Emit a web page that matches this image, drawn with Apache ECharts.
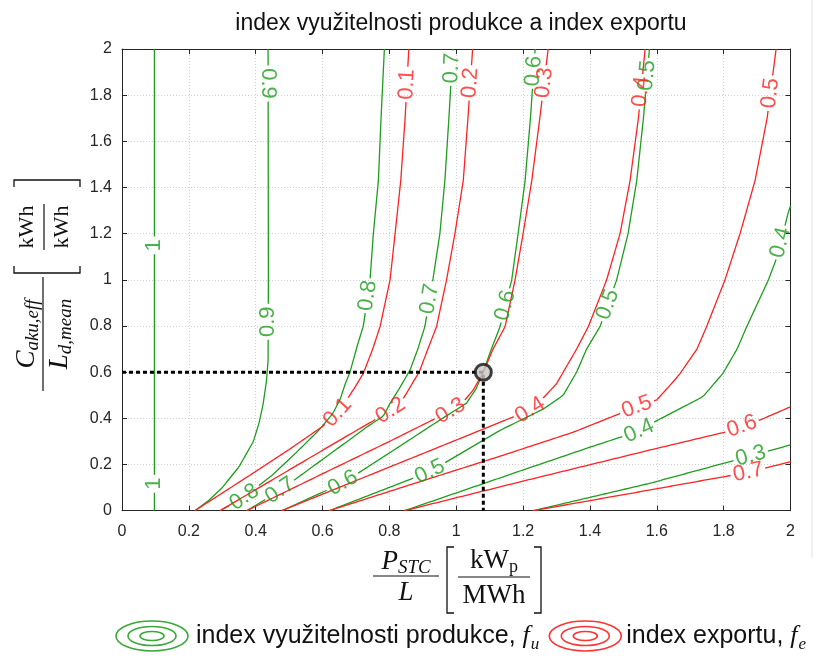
<!DOCTYPE html>
<html><head><meta charset="utf-8">
<script src="https://cdn.jsdelivr.net/npm/echarts@6/dist/echarts.min.js"></script>
<style>html,body{margin:0;padding:0;background:#fff}#c{width:819px;height:659px}</style>
</head><body><div id="c"></div>
<script>
// ---- ticks ----
const xTickLabels = ['0','0.2','0.4','0.6','0.8','1','1.2','1.4','1.6','1.8','2'];
const yTickLabels = ['0','0.2','0.4','0.6','0.8','1','1.2','1.4','1.6','1.8','2'];

// ---- f_u contours (green) ----
const fu10 = [[0.097,0],[0.097,2]];
const fu10Lab = [[0.097,0.12],[0.097,1.15]];
const fu09 = [[0.218,0],[0.26,0.045],[0.298,0.097],[0.35,0.19],[0.393,0.30],[0.41,0.38],[0.422,0.46],[0.432,0.56],[0.437,0.65],[0.438,1.0],[0.437,2.0]];
const fu09Lab = [[0.438,0.82],[0.437,1.85]];
const fu08 = [[0.293,0],[0.363,0.055],[0.393,0.09],[0.45,0.155],[0.52,0.25],[0.59,0.35],[0.63,0.42],[0.652,0.48],[0.668,0.55],[0.682,0.6],[0.705,0.72],[0.722,0.8],[0.742,1.0],[0.752,1.2],[0.767,1.43],[0.775,1.7],[0.785,2.0]];
const fu08Lab = [[0.365,0.057],[0.74,0.93]];
const fu07 = [[0.373,0],[0.473,0.0875],[0.56,0.18],[0.652,0.277],[0.73,0.36],[0.782,0.41],[0.802,0.465],[0.83,0.53],[0.862,0.61],[0.885,0.7],[0.906,0.797],[0.93,1.0],[0.951,1.2],[0.966,1.43],[0.978,1.7],[0.99,2.0]];
const fu07Lab = [[0.473,0.0875],[0.931,0.912],[0.987,1.92]];
const fu06 = [[0.478,0],[0.661,0.12],[0.8,0.25],[0.951,0.393],[1.031,0.466],[1.06,0.53],[1.081,0.602],[1.105,0.7],[1.131,0.797],[1.166,1.0],[1.185,1.2],[1.206,1.43],[1.222,1.7],[1.236,2.0]];
const fu06Lab = [[0.661,0.12],[1.158,0.884],[1.25,1.9]];
const fu05 = [[0.62,0],[0.921,0.169],[1.131,0.348],[1.26,0.44],[1.32,0.5],[1.36,0.6],[1.39,0.7],[1.43,0.797],[1.48,1.0],[1.514,1.2],[1.54,1.43],[1.56,1.7],[1.578,2.0]];
const fu05Lab = [[0.921,0.169],[1.467,0.884],[1.59,1.88]];
const fu04 = [[0.845,0],[1.191,0.172],[1.40,0.275],[1.547,0.345],[1.60,0.39],[1.738,0.494],[1.798,0.595],[1.84,0.7],[1.869,0.797],[1.934,1.0],[1.96,1.1],[1.993,1.29],[2.0,1.32]];
const fu04Lab = [[1.547,0.345],[1.974,1.16]];
const fu03 = [[1.23,0],[1.58,0.119],[1.881,0.237],[2.0,0.285]];
const fu03Lab = [[1.881,0.237]];

// ---- f_e contours (red) ----
const fe01 = [[0.218,0],[0.40,0.17],[0.50,0.265],[0.60,0.365],[0.645,0.425],[0.67,0.475],[0.695,0.53],[0.722,0.595],[0.75,0.70],[0.772,0.797],[0.802,1.0],[0.817,1.2],[0.834,1.43],[0.847,1.7],[0.858,2.0]];
const fe01Lab = [[0.646,0.427],[0.847,1.85]];
const fe02 = [[0.293,0],[0.652,0.306],[0.80,0.43],[0.83,0.46],[0.851,0.508],[0.872,0.56],[0.889,0.6],[0.915,0.7],[0.941,0.797],[0.971,1.0],[0.996,1.2],[1.021,1.43],[1.035,1.7],[1.049,2.0]];
const fe02Lab = [[0.803,0.433],[1.058,1.85]];
const fe03 = [[0.373,0],[0.6,0.16],[0.8,0.30],[0.983,0.432],[1.02,0.47],[1.051,0.523],[1.081,0.6],[1.11,0.7],[1.146,0.797],[1.176,1.0],[1.2,1.2],[1.226,1.43],[1.25,1.7],[1.275,2.0]];
const fe03Lab = [[0.983,0.432],[1.275,1.85]];
const fe04 = [[0.478,0],[0.8,0.189],[1.0,0.306],[1.221,0.436],[1.26,0.488],[1.30,0.55],[1.32,0.6],[1.36,0.7],[1.395,0.797],[1.45,1.0],[1.49,1.2],[1.52,1.43],[1.545,1.7],[1.565,2.0]];
const fe04Lab = [[1.221,0.436],[1.557,1.815]];
const fe05 = [[0.62,0],[0.9,0.13],[1.131,0.236],[1.35,0.34],[1.54,0.45],[1.60,0.48],[1.65,0.56],[1.67,0.595],[1.72,0.7],[1.749,0.797],[1.804,1.0],[1.849,1.2],[1.894,1.43],[1.93,1.7],[1.957,2.0]];
const fe05Lab = [[1.54,0.45],[1.948,1.808]];
const fe06 = [[0.845,0],[1.191,0.125],[1.58,0.263],[1.809,0.342],[1.909,0.393],[2.0,0.45]];
const fe06Lab = [[1.854,0.364]];
const fe07 = [[1.23,0],[1.58,0.09],[1.869,0.165],[2.0,0.212]];
const fe07Lab = [[1.876,0.163]];

// ---- highlighted operating point ----
const opPoint = [1.081, 0.6];

const GREEN = '#1e9e1e', RED = '#ff2222';
const contours = [
  {lev:'1',   pts:fu10, lab:fu10Lab, c:GREEN},
  {lev:'0.9', pts:fu09, lab:fu09Lab, c:GREEN},
  {lev:'0.8', pts:fu08, lab:fu08Lab, c:GREEN},
  {lev:'0.7', pts:fu07, lab:fu07Lab, c:GREEN},
  {lev:'0.6', pts:fu06, lab:fu06Lab, c:GREEN},
  {lev:'0.5', pts:fu05, lab:fu05Lab, c:GREEN},
  {lev:'0.4', pts:fu04, lab:fu04Lab, c:GREEN},
  {lev:'0.3', pts:fu03, lab:fu03Lab, c:GREEN},
  {lev:'0.1', pts:fe01, lab:fe01Lab, c:RED},
  {lev:'0.2', pts:fe02, lab:fe02Lab, c:RED},
  {lev:'0.3', pts:fe03, lab:fe03Lab, c:RED},
  {lev:'0.4', pts:fe04, lab:fe04Lab, c:RED},
  {lev:'0.5', pts:fe05, lab:fe05Lab, c:RED},
  {lev:'0.6', pts:fe06, lab:fe06Lab, c:RED},
  {lev:'0.7', pts:fe07, lab:fe07Lab, c:RED}
];

const LABEL_FONT = 22;
const SANS = 'Liberation Sans, Arial, sans-serif';
const SERIF = 'Liberation Serif, Times New Roman, serif';

const meas = document.createElement('canvas').getContext('2d');
function tw(t, font){ meas.font = font; return meas.measureText(t).width; }

const chart = echarts.init(document.getElementById('c'), null, {renderer:'canvas'});

const axisCommon = {
  type:'value', min:0, max:2, interval:0.2,
  axisLine:{show:true, onZero:false, lineStyle:{color:'#262626', width:1}},
  axisTick:{show:true, inside:true, length:5, lineStyle:{color:'#262626'}},
};

// math label builder ------------------------------------------------
function row(pieces, x0, yc){
  const els=[]; let x=x0;
  pieces.forEach(p=>{
    els.push({type:'text', x:x, y:yc+(p[2]||0), style:{text:p[0], font:p[1], fill:'#111', verticalAlign:'middle', align:'left'}});
    x += tw(p[0], p[1]);
  });
  return {els, w:x-x0};
}
function rowW(pieces){ return pieces.reduce((s,p)=>s+tw(p[0],p[1]),0); }
function frac(num, den, cx, barY, barW, gapN, gapD){
  const wn=rowW(num), wd=rowW(den);
  const a=row(num, cx-wn/2, barY-gapN), b=row(den, cx-wd/2, barY+gapD);
  return a.els.concat(b.els,[{type:'line', shape:{x1:cx-barW/2,y1:barY,x2:cx+barW/2,y2:barY}, style:{stroke:'#111', lineWidth:1.2}}]);
}
function bracket(x, y1, y2, dir){
  return {type:'polyline', shape:{points:[[x+dir*7,y1],[x,y1],[x,y2],[x+dir*7,y2]]}, style:{stroke:'#111', lineWidth:1.3, fill:null}};
}
const ITM = 'italic 27px '+SERIF, ITS = 'italic 19px '+SERIF, RMM='27px '+SERIF, RMS='18px '+SERIF;
const ITMy = 'italic 27px '+SERIF, ITSy = 'italic 19px '+SERIF, RMMy='22px '+SERIF;

const xLab = [].concat(
  frac([['P',ITM,0],['STC',ITS,6]], [['L',ITM,0]], 0, 0, 66, 14, 17),
  [bracket(41,-29,37,1), bracket(135,-29,37,-1)],
  frac([['kW',RMM,0],['p',RMS,6]], [['MWh',RMM,0]], 88, 1, 72, 16, 19)
);
const yLab = [].concat(
  frac([['C',ITMy,0],['aku,eff',ITSy,6]], [['L',ITMy,0],['d,mean',ITSy,6]], -4, 0, 114, 16, 17),
  [bracket(57,-29,37,1), bracket(150,-29,37,-1)],
  frac([['kWh',RMMy,0]], [['kWh',RMMy,0]], 103, 1, 46, 17, 18)
);

// legend layout
const LEGF = '25px '+SANS;
const LF_I = 'italic 26px '+SERIF, LF_S = 'italic 17px '+SERIF;
const leg1 = 'index využitelnosti produkce, ', leg2 = 'index exportu, ';
function legendIcon(cx, cy, col){
  return [[36,15],[24,9.5],[12,4.5]].map(r=>({type:'ellipse', shape:{cx:cx, cy:cy, rx:r[0], ry:r[1]}, style:{stroke:col, lineWidth:1.6, fill:null}}));
}
function legendText(x, y, t, sub){
  const w1=tw(t,LEGF), w2=tw('f',LF_I);
  return {els:[
    {type:'text', x:x, y:y, style:{text:t, font:LEGF, fill:'#111', verticalAlign:'middle'}},
    {type:'text', x:x+w1, y:y, style:{text:'f', font:LF_I, fill:'#111', verticalAlign:'middle'}},
    {type:'text', x:x+w1+w2+1, y:y+9, style:{text:sub, font:LF_S, fill:'#111', verticalAlign:'middle'}}
  ], w:w1+w2+1+tw(sub,LF_S)};
}
const LY = 636;
const L1 = legendText(196, LY, leg1, 'u');
const icon2 = 196 + L1.w + 10 + 36;
const L2 = legendText(icon2 + 41, LY, leg2, 'e');

const base = {
  animation:false,
  backgroundColor:'#fff',
  title:{text:'index využitelnosti produkce a index exportu', left:456, top:7, textAlign:'center',
    textStyle:{fontFamily:SANS, fontSize:23, fontWeight:'normal', color:'#111'}},
  grid:{left:122, top:49, width:668.5, height:461.7, show:false},
  xAxis:[
    Object.assign({}, axisCommon, {position:'bottom',
      axisLabel:{show:true, margin:13, fontSize:16, fontFamily:SANS, color:'#262626', formatter:v=>xTickLabels[Math.round(v/0.2)]},
      splitLine:{show:true, lineStyle:{color:'#cfcfcf', type:[1,2], width:1}}}),
    Object.assign({}, axisCommon, {position:'top', axisLabel:{show:false}, splitLine:{show:false}})
  ],
  yAxis:[
    Object.assign({}, axisCommon, {position:'left',
      axisLabel:{show:true, margin:10, fontSize:16, fontFamily:SANS, color:'#262626', formatter:v=>yTickLabels[Math.round(v/0.2)]},
      splitLine:{show:true, lineStyle:{color:'#cfcfcf', type:[1,2], width:1}}}),
    Object.assign({}, axisCommon, {position:'right', axisLabel:{show:false}, splitLine:{show:false}})
  ],
  graphic:[
    {type:'group', x:406, y:576, children:xLab},
    {type:'group', x:43, y:330, rotation:Math.PI/2, children:yLab},
    {type:'line', shape:{x1:812,y1:0,x2:812,y2:558}, style:{stroke:'#e2e2e2', lineWidth:1}},
    ...legendIcon(152, LY, '#3aa83a'),
    ...L1.els,
    ...legendIcon(icon2, LY, '#ff3333'),
    ...L2.els
  ],
  series:[]
};
chart.setOption(base);

// build contour series with inline label gaps ----------------------
const toPx = p => chart.convertToPixel({gridIndex:0}, p);
const series = [];
const labelData = [];
contours.forEach(ct=>{
  const font = LABEL_FONT+'px '+SANS;
  const R = tw(ct.lev, font)/2 + 2;
  const dense=[];
  for(let i=0;i<ct.pts.length-1;i++){
    const a=ct.pts[i], b=ct.pts[i+1];
    const pa=toPx(a), pb=toPx(b);
    const L=Math.hypot(pb[0]-pa[0], pb[1]-pa[1]);
    const n=Math.max(1, Math.ceil(L/1.5));
    for(let k=(i===0?0:1);k<=n;k++){
      const t=k/n;
      dense.push({d:[a[0]+(b[0]-a[0])*t, a[1]+(b[1]-a[1])*t], p:[pa[0]+(pb[0]-pa[0])*t, pa[1]+(pb[1]-pa[1])*t]});
    }
  }
  const centers = ct.lab.map(l=>{
    const q=toPx(l); let bi=0, bd=1e9;
    dense.forEach((o,i)=>{const d=Math.hypot(o.p[0]-q[0],o.p[1]-q[1]); if(d<bd){bd=d;bi=i;}});
    const i0=Math.max(0,bi-8), i1=Math.min(dense.length-1,bi+8);
    let ang=Math.atan2(-(dense[i1].p[1]-dense[i0].p[1]), dense[i1].p[0]-dense[i0].p[0])*180/Math.PI;
    if(ang>90) ang-=180; if(ang<-90) ang+=180;
    return {p:dense[bi].p, d:dense[bi].d, ang};
  });
  const data=[]; let lastNull=false;
  dense.forEach(o=>{
    const hidden = centers.some(c=>Math.hypot(o.p[0]-c.p[0], o.p[1]-c.p[1])<R);
    if(hidden){ if(!lastNull){data.push('-'); lastNull=true;} }
    else { data.push(o.d); lastNull=false; }
  });
  series.push({type:'line', data:data, connectNulls:false, showSymbol:false, symbol:'none',
    lineStyle:{color:ct.c, width:1.3}, itemStyle:{color:ct.c}, z:ct.c===RED?3:2, silent:true, clip:true});
  centers.forEach(c=>labelData.push({value:c.d, label:{show:true, formatter:ct.lev, rotate:Math.round(c.ang), color:ct.c}}));
});
series.push({type:'scatter', data:labelData, symbolSize:1, itemStyle:{color:'rgba(0,0,0,0)'}, z:5, silent:true,
  label:{show:true, position:'inside', fontSize:LABEL_FONT, fontFamily:SANS}, labelLayout:{hideOverlap:false}});
series.push({type:'line', data:[[0,opPoint[1]],opPoint,[opPoint[0],0]], showSymbol:false, symbol:'none', z:6,
  lineStyle:{color:'#000', width:3, type:[4,3]}});
series.push({type:'scatter', data:[opPoint], symbol:'circle', symbolSize:16, z:7,
  itemStyle:{color:'#c8c8c8', borderColor:'#111', borderWidth:3}});
chart.setOption({series});
</script></body></html>
